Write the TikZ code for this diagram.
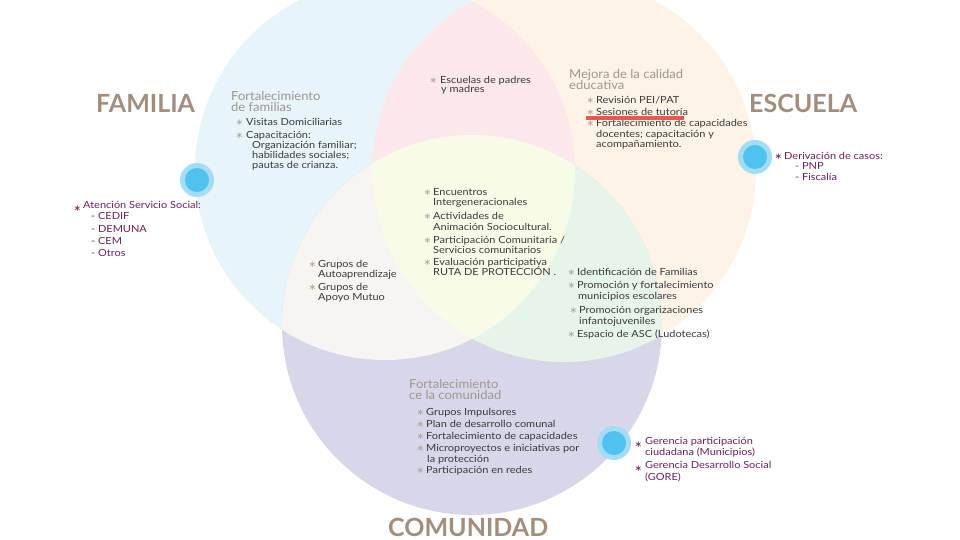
\documentclass[tikz,border=0pt]{standalone}
\usepackage{fontspec}
\setmainfont{Lato}
\newfontfamily\bodyf{Lato}[FakeStretch=1.12]
\newfontfamily\headf{Lato}[FakeStretch=1.05]
\newfontfamily\symf{DejaVu Sans}
\definecolor{famc}{HTML}{E7F4FA}
\definecolor{escc}{HTML}{FEF3E6}
\definecolor{comc}{HTML}{D8D7E9}
\definecolor{fec}{HTML}{FCE7EB}
\definecolor{fcc}{HTML}{F7F4F1}
\definecolor{ecc}{HTML}{E6F4EA}
\definecolor{allc}{HTML}{F9FBE9}
\definecolor{bodyc}{HTML}{3A3A3A}
\definecolor{headc}{HTML}{A0968F}
\definecolor{starc}{HTML}{ABA39C}
\definecolor{purp}{HTML}{6E1E5F}
\definecolor{titc}{HTML}{A38E7D}
\definecolor{dotout}{HTML}{A3DDF5}
\definecolor{dotin}{HTML}{4FC2EF}
\definecolor{redl}{HTML}{E8584C}
\newcommand\mkline[5][bodytxt]{\node[#1] (#2) at (#3,#4) {#5};}
\newcommand\mkstar[4][starb]{\node[#1] (#2) at (#3,#4) {∗};}
\begin{document}
\begin{tikzpicture}[x=1pt,y=-1pt,
  bodytxt/.style={anchor=base west,inner sep=0pt,font=\bodyf\fontsize{9.8}{11}\selectfont,text=bodyc},
  headtxt/.style={anchor=north west,inner sep=0pt,align=left,font=\headf\fontsize{12.4}{11.5}\selectfont,text=headc},
  outtxt/.style={anchor=base west,inner sep=0pt,font=\bodyf\fontsize{9.8}{11}\selectfont,text=purp},
  starb/.style={anchor=base west,inner sep=0pt,font=\symf\fontsize{9}{10}\selectfont,text=starc,xshift=-2.5pt},
  starp/.style={anchor=base west,inner sep=0pt,font=\symf\fontsize{9}{10}\selectfont,text=purp,yshift=-3pt,xshift=-2.5pt},
  titletxt/.style={anchor=base west,inner sep=0pt,font=\fontsize{25}{26}\selectfont\bfseries,text=titc},
  dotring/.style={fill=dotout},
  dotcore/.style={fill=dotin}]
\useasboundingbox (0,0) rectangle (960,540);
\clip (0,0) rectangle (960,540);
\fill[white] (0,0) rectangle (960,540);
\coordinate (cF) at (385,170);
\coordinate (cE) at (564,170);
\coordinate (cC) at (472,325);
% circles
\fill[famc] (cF) circle[radius=190pt];
\fill[escc] (cE) circle[radius=192pt];
\fill[comc] (cC) circle[radius=190pt];
\begin{scope}\clip (cF) circle[radius=190pt]; \fill[fec] (cE) circle[radius=192pt];\end{scope}
\begin{scope}\clip (cF) circle[radius=190pt]; \fill[fcc] (cC) circle[radius=190pt];\end{scope}
\begin{scope}\clip (cE) circle[radius=192pt]; \fill[ecc] (cC) circle[radius=190pt];\end{scope}
\begin{scope}\clip (cF) circle[radius=190pt]; \clip (cE) circle[radius=192pt]; \fill[allc] (cC) circle[radius=190pt];\end{scope}
% dots
\coordinate (d1) at (197,180);
\coordinate (d2) at (755,157);
\coordinate (d3) at (614,443);
\foreach \d in {d1,d2,d3}{
  \fill[dotring] (\d) circle[radius=17pt];
  \fill[dotcore] (\d) circle[radius=12pt];
}
% titles
\mkline[titletxt]{tF}{96}{113}{FAMILIA}
\mkline[titletxt]{tE}{749}{113}{ESCUELA}
\mkline[titletxt]{tC}{388}{536}{COMUNIDAD}
% familia block
\mkline[headtxt]{hF}{231}{91}{Fortalecimiento\\de familias}
\mkstar{sF1}{238}{126}\mkline{lF1}{246}{126}{Visitas Domiciliarias}
\mkstar{sF2}{238}{139}\mkline{lF2}{246}{139}{Capacitación:}
\mkline{lF3}{252}{149}{Organización familiar;}
\mkline{lF4}{252}{159}{habilidades sociales;}
\mkline{lF5}{252}{168}{pautas de crianza.}
% top middle
\mkstar{sM1}{432}{84}\mkline{lM1}{440}{84}{Escuelas de padres}
\mkline{lM2}{441}{93}{y madres}
% escuela block
\mkline[headtxt]{hE}{569}{69}{Mejora de la calidad\\educativa}
\mkstar{sE1}{589}{104}\mkline{lE1}{596}{104}{Revisión PEI/PAT}
\mkstar{sE2}{589}{116}\mkline{lE2}{596}{116}{Sesiones de tutoría}
\mkstar{sE3}{589}{127}\mkline{lE3}{596}{127}{Fortalecimiento de capacidades}
\mkline{lE4}{596}{138}{docentes; capacitación y}
\mkline{lE5}{596}{148}{acompañamiento.}
\coordinate (rl1) at (586,118);
\coordinate (rl2) at (684,118);
\draw[redl,line width=3.5pt] (rl1) -- (rl2);
% center
\mkstar{sC1}{426}{195}\mkline{lC1}{433}{195}{Encuentros}
\mkline{lC2}{433}{205}{Intergeneracionales}
\mkstar{sC3}{426}{219}\mkline{lC3}{433}{219}{Actividades de}
\mkline{lC4}{433}{230}{Animación Sociocultural.}
\mkstar{sC5}{426}{243}\mkline{lC5}{433}{243}{Participación Comunitaria /}
\mkline{lC6}{433}{253}{Servicios comunitarios}
\mkstar{sC7}{426}{265}\mkline{lC7}{433}{265}{Evaluación participativa}
\mkline{lC8}{433}{275}{RUTA DE PROTECCIÓN .}
% left middle
\mkstar{sL1}{311}{267}\mkline{lL1}{318}{267}{Grupos de}
\mkline{lL2}{318}{277}{Autoaprendizaje}
\mkstar{sL3}{311}{290}\mkline{lL3}{318}{290}{Grupos de}
\mkline{lL4}{318}{300}{Apoyo Mutuo}
% right middle
\mkstar{sR1}{570}{275}\mkline{lR1}{577}{275}{Identificación de Familias}
\mkstar{sR2}{570}{288}\mkline{lR2}{577}{288}{Promoción y fortalecimiento}
\mkline{lR3}{578}{299}{municipios escolares}
\mkstar{sR4}{572}{313}\mkline{lR4}{579}{313}{Promoción orgarizaciones}
\mkline{lR5}{579}{324}{infantojuveniles}
\mkstar{sR6}{570}{337}\mkline{lR6}{577}{337}{Espacio de ASC (Ludotecas)}
% comunidad block
\mkline[headtxt]{hC}{409}{379}{Fortalecimiento\\ce la comunidad}
\mkstar{sK1}{419}{415}\mkline{lK1}{426}{415}{Grupos Impulsores}
\mkstar{sK2}{419}{427}\mkline{lK2}{426}{427}{Plan de desarrollo comunal}
\mkstar{sK3}{419}{439}\mkline{lK3}{426}{439}{Fortalecimiento de capacidades}
\mkstar{sK4}{419}{451}\mkline{lK4}{426}{451}{Microproyectos e iniciativas por}
\mkline{lK5}{427}{462}{la protección}
\mkstar{sK6}{419}{473}\mkline{lK6}{426}{473}{Participación en redes}
% outside left
\mkstar[starp]{sO1}{76}{208}\mkline[outtxt]{lO1}{83}{208}{Atención Servicio Social:}
\mkline[outtxt]{lO2}{91}{219}{- CEDIF}
\mkline[outtxt]{lO3}{91}{232}{- DEMUNA}
\mkline[outtxt]{lO4}{91}{244}{- CEM}
\mkline[outtxt]{lO5}{91}{256}{- Otros}
% outside right
\mkstar[starp,yshift=3pt]{sP1}{777}{160}\mkline[outtxt]{lP1}{784}{160}{Derivación de casos:}
\mkline[outtxt]{lP2}{795}{170}{- PNP}
\mkline[outtxt]{lP3}{795}{181}{- Fiscalía}
% bottom right
\mkstar[starp]{sG1}{637}{444}\mkline[outtxt]{lG1}{645}{444}{Gerencia participación}
\mkline[outtxt]{lG2}{645}{455}{ciudadana (Municipios)}
\mkstar[starp]{sG3}{637}{468}\mkline[outtxt]{lG3}{645}{468}{Gerencia Desarrollo Social}
\mkline[outtxt]{lG4}{645}{480}{(GORE)}
\end{tikzpicture}
\end{document}
